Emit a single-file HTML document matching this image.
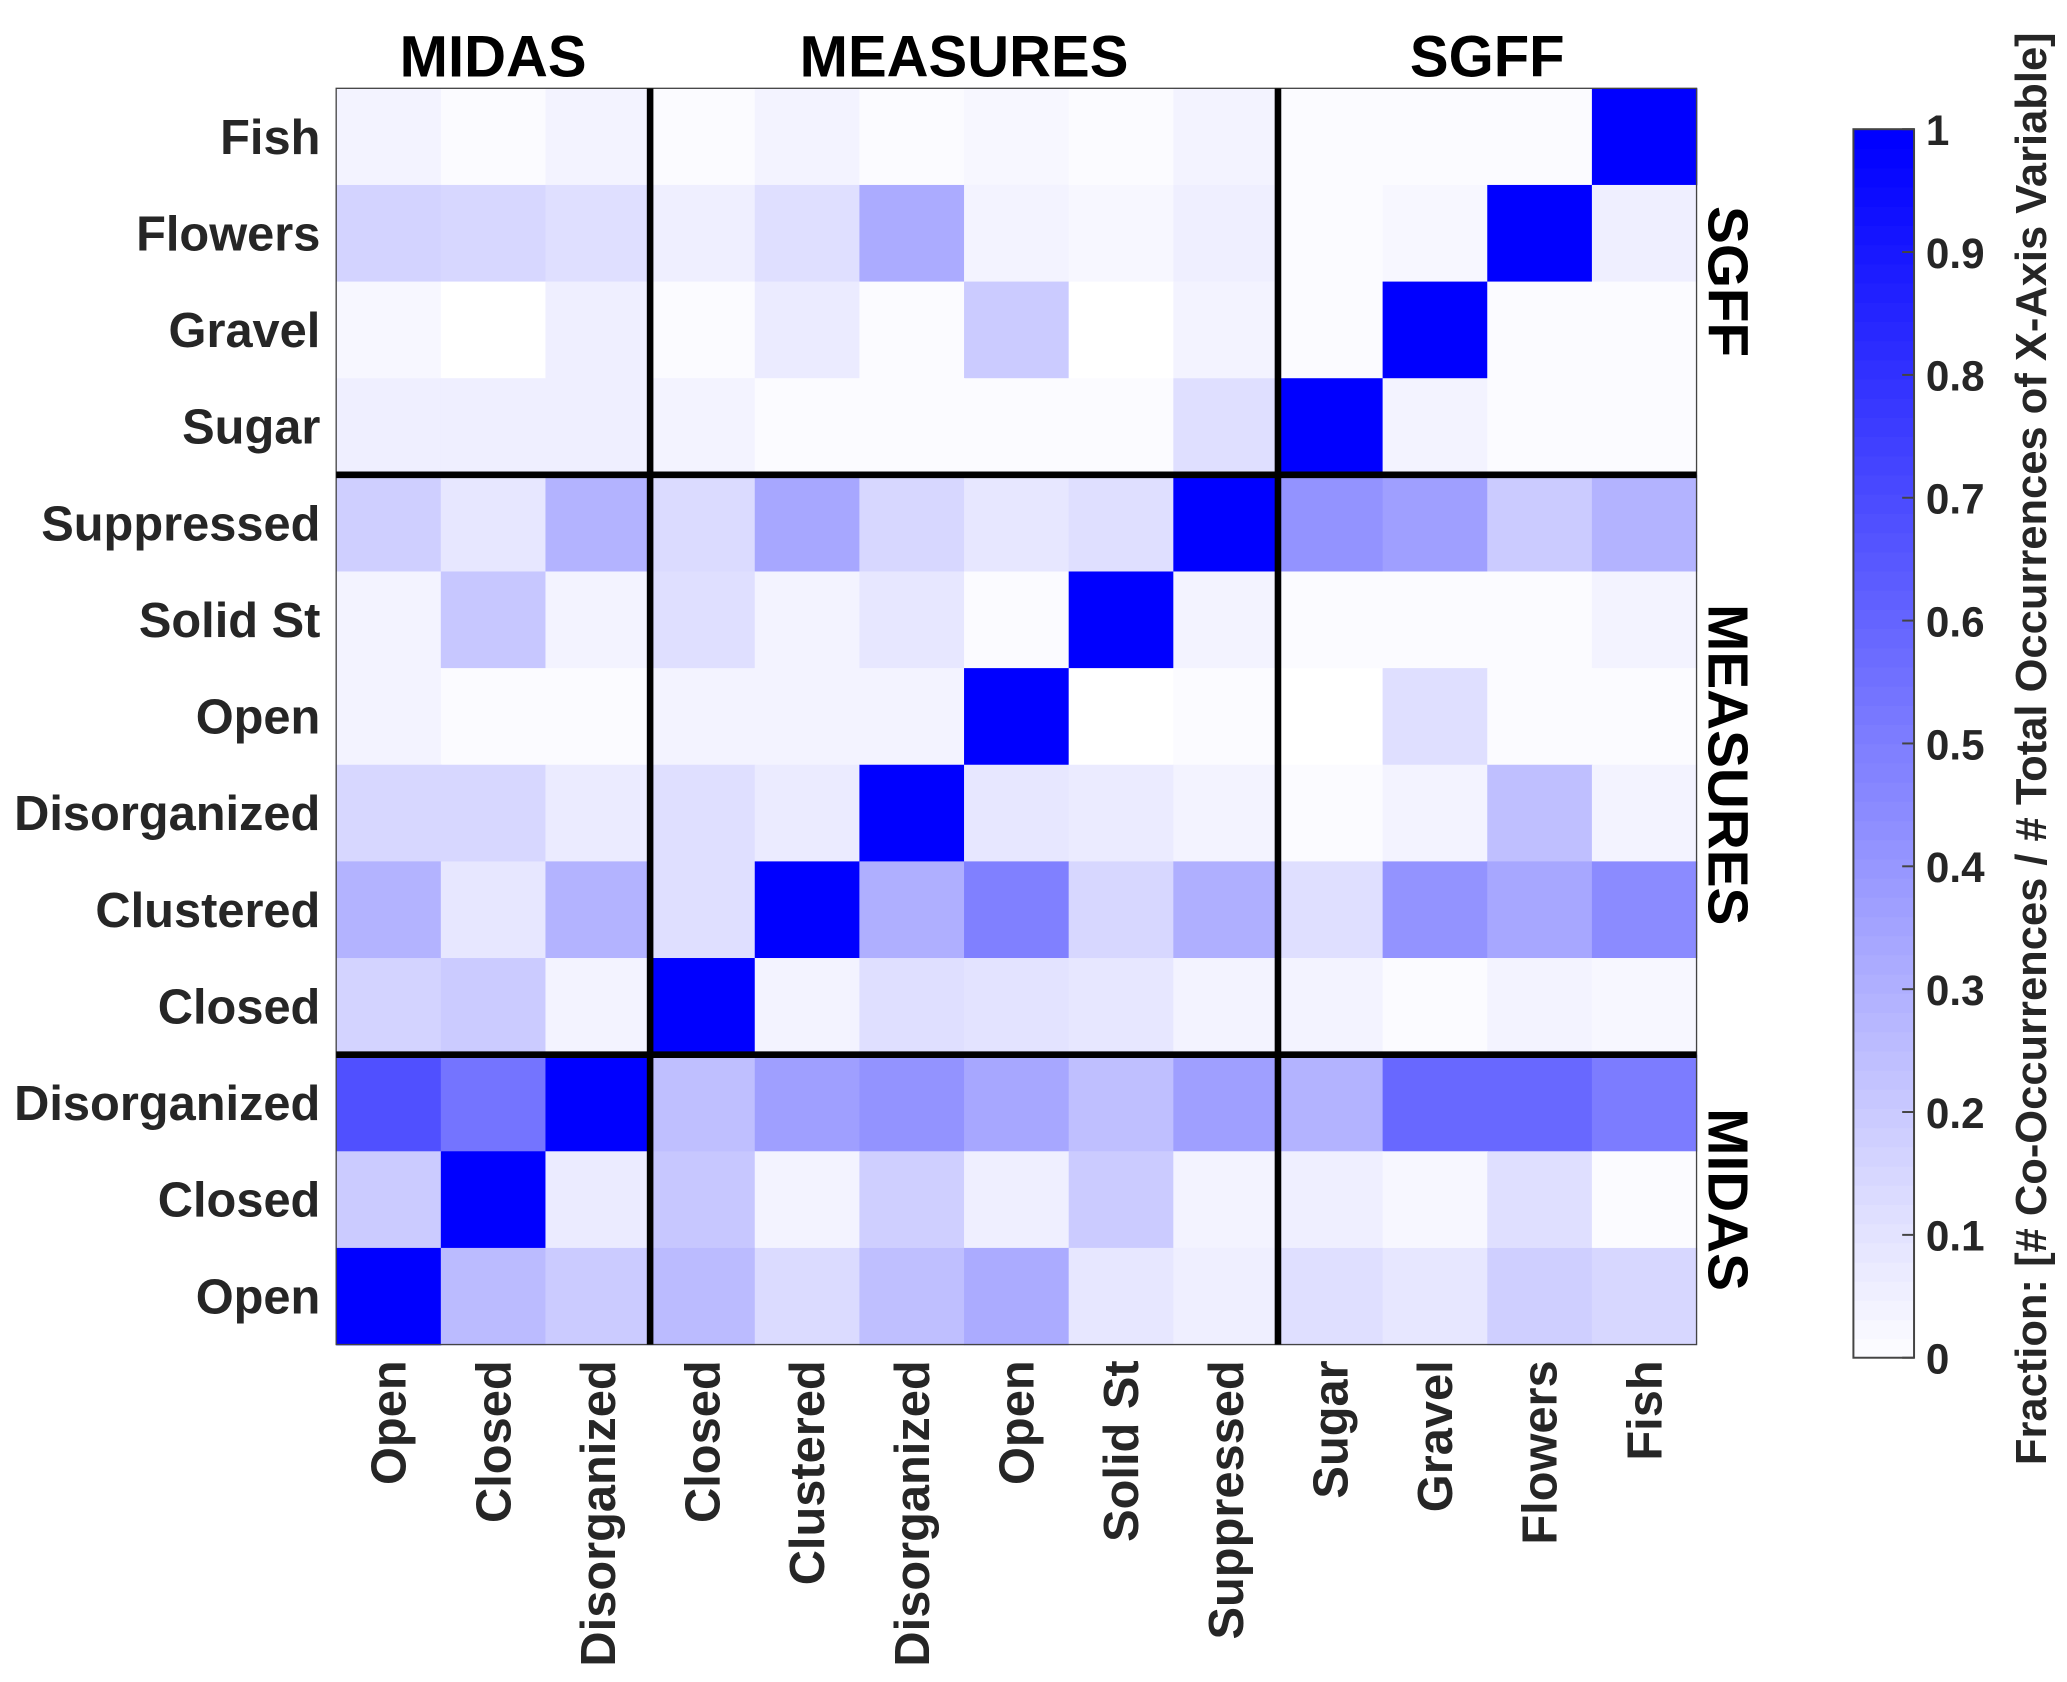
<!DOCTYPE html>
<html><head><meta charset="utf-8"><style>
html,body{margin:0;padding:0;background:#fff;}
svg{display:block;}
text{font-family:"Liberation Sans",Arial,sans-serif;font-weight:bold;}
</style></head><body>
<svg id="chart" width="2067" height="1682" viewBox="0 0 1568 1276" xmlns="http://www.w3.org/2000/svg">
<g id="cells"></g>
<g id="overlay"></g>
</svg>
<script>
const xLabels = ["Open","Closed","Disorganized","Closed","Clustered","Disorganized","Open","Solid St","Suppressed","Sugar","Gravel","Flowers","Fish"];
const yLabels = ["Fish","Flowers","Gravel","Sugar","Suppressed","Solid St","Open","Disorganized","Clustered","Closed","Disorganized","Closed","Open"];
const groupNames = ["MIDAS","MEASURES","SGFF"];
const groupSizesX = [3,6,4];
const groupNamesY = ["SGFF","MEASURES","MIDAS"];
const groupSizesY = [4,6,3];
const cbTicks = [0,0.1,0.2,0.3,0.4,0.5,0.6,0.7,0.8,0.9,1];
const values = [
[.04,.01,.05,.02,.05,.02,.03,.02,.04,.01,.01,.02,1],
[.17,.15,.13,.07,.12,.33,.05,.03,.06,.02,.03,1,.06],
[.03,0,.06,.01,.08,.01,.2,0,.05,.02,1,.02,.02],
[.07,.07,.07,.05,.02,.01,.02,.02,.12,1,.05,.02,.02],
[.18,.1,.3,.14,.35,.15,.1,.12,1,.42,.37,.2,.3],
[.05,.22,.05,.13,.05,.1,.01,1,.05,.02,.01,.02,.04],
[.05,.01,.02,.04,.04,.05,1,0,.01,0,.13,.01,.02],
[.15,.15,.08,.13,.08,1,.1,.08,.05,.01,.04,.25,.05],
[.3,.1,.3,.13,1,.32,.5,.15,.32,.12,.42,.35,.45],
[.17,.2,.05,1,.04,.12,.11,.1,.04,.04,.02,.05,.03],
[.68,.55,1,.25,.38,.42,.35,.25,.37,.3,.6,.6,.52],
[.2,1,.08,.22,.04,.18,.06,.2,.05,.07,.03,.13,.02],
[1,.27,.2,.27,.14,.25,.33,.09,.07,.12,.1,.18,.16]
];
const NS="http://www.w3.org/2000/svg";
const L=255,R=1287,T=67,B=1020;
const cw=(R-L)/xLabels.length, ch=(B-T)/yLabels.length;
const xPos=i=>L+i*cw, yPos=j=>T+j*ch;
const color=v=>{const q=Math.round(Math.min(1,Math.max(0,v))*64)/64;const c=Math.round(255*(1-q));return `rgb(${c},${c},255)`;};
function mk(tag,attrs,parent,text){const e=document.createElementNS(NS,tag);for(const k in attrs)e.setAttribute(k,attrs[k]);if(text!==undefined)e.textContent=text;parent.appendChild(e);return e;}
const cells=document.getElementById('cells'), ov=document.getElementById('overlay');
values.forEach((row,j)=>row.forEach((v,i)=>{
  const r=mk('rect',{x:xPos(i),y:yPos(j),width:cw+0.6,height:ch+0.6,fill:color(v)},cells);
  
  
}));
const fr=mk('rect',{x:L,y:T,width:R-L,height:B-T,fill:'none',stroke:'#444','stroke-width':1},ov);


let acc=0;
groupSizesX.forEach((n,g)=>{
  const x0=xPos(acc); acc+=n; const x1=xPos(acc);
  const t=mk('text',{x:(x0+x1)/2,y:58,'text-anchor':'middle','font-size':44,fill:'#000'},ov,groupNames[g]);
  
  
  if(g<groupSizesX.length-1){const l=mk('line',{x1:x1,x2:x1,y1:T,y2:B,stroke:'#000','stroke-width':5},ov);
  
  }
});
acc=0;
groupSizesY.forEach((n,g)=>{
  const y0=yPos(acc); acc+=n; const y1=yPos(acc);
  const cy=(y0+y1)/2;
  const t=mk('text',{x:0,y:0,'text-anchor':'middle','font-size':43,fill:'#000',transform:`translate(1296,${cy}) rotate(90)`},ov,groupNamesY[g]);
  
  
  if(g<groupSizesY.length-1){const l=mk('line',{x1:L,x2:R,y1:y1,y2:y1,stroke:'#000','stroke-width':5},ov);
  
  }
});
yLabels.forEach((s,j)=>{
  const t=mk('text',{x:243,y:yPos(j)+ch/2+13,'text-anchor':'end','font-size':37,fill:'#262626'},ov,s);
  
  
});
xLabels.forEach((s,i)=>{
  const cx=xPos(i)+cw/2;
  const t=mk('text',{x:0,y:0,'text-anchor':'end','font-size':37,fill:'#262626',transform:`translate(${cx+13},1032) rotate(-90)`},ov,s);
  
  
});
const cbL=1406,cbR=1452,cbT=98,cbB=1030;
const cbY=v=>cbB-v*(cbB-cbT);
const N=64;
for(let k=0;k<N;k++){
  const v=(k+0.5)/N;
  const r=mk('rect',{x:cbL,y:cbY((k+1)/N),width:cbR-cbL,height:(cbB-cbT)/N+0.6,fill:color(v)},ov);
  
  
}
const cbf=mk('rect',{x:cbL,y:cbT,width:cbR-cbL,height:cbB-cbT,fill:'none',stroke:'#444','stroke-width':1.5},ov);


cbTicks.forEach(v=>{
  const y=cbY(v);
  const l=mk('line',{x1:cbR-9,x2:cbR,y1:y,y2:y,stroke:'#444','stroke-width':1.5},ov);
  
  
  const t=mk('text',{x:1461,y:y+12,'font-size':32,fill:'#262626'},ov,String(v));
  
  
});
const cl=mk('text',{x:0,y:0,'text-anchor':'middle','font-size':33,fill:'#262626',transform:`translate(1552,568) rotate(-90)`},ov,'Fraction: [# Co-Occurrences / # Total Occurrences of X-Axis Variable]');


</script>
</body></html>
